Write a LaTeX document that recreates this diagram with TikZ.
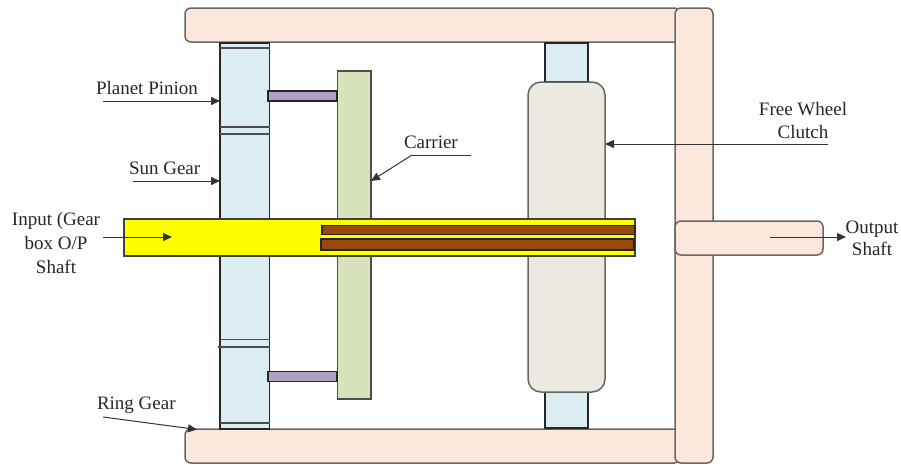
\documentclass[tikz,border=0pt]{standalone}
\usepackage{fontspec}
\setmainfont{Liberation Serif}
\usetikzlibrary{arrows.meta}
\tikzset{
  part/.style={draw=#1,line width=1.1pt,inner sep=0pt,outer sep=0pt,rectangle},
  part/.default=black!85,
  ringbox/.style={part=black!60,line width=1.5pt,fill=ringfill,rounded corners=6pt},
  gearbox/.style={part,fill=gearfill},
  linkbox/.style={part,fill=linkfill},
  brownbox/.style={part,fill=brownfill},
  toothline/.style={draw=black!70,line width=1.1pt},
  pointer/.style={draw=black!80,line width=1pt,-{Triangle[length=9pt,width=8pt]}},
  plainline/.style={draw=black!80,line width=1pt},
  lbl/.style={font=\fontsize{19}{20}\selectfont,inner sep=0pt,outer sep=0pt,text=black!85,align=center},
}
\definecolor{ringfill}{HTML}{FBE8DA}
\definecolor{gearfill}{HTML}{DBECF3}
\definecolor{linkfill}{HTML}{B0A0C4}
\definecolor{carrierfill}{HTML}{D8E3BC}
\definecolor{clutchfill}{HTML}{ECEAE0}
\definecolor{brownfill}{HTML}{984807}
\definecolor{shaftfill}{RGB}{255,255,0}
\begin{document}
\begin{tikzpicture}[x=1pt,y=-1pt]
\useasboundingbox (0,0) rectangle (901,464);
% ring gear
\node[ringbox,minimum width=495pt,minimum height=34pt] (ringtop) at (432.5,25) {};
\node[ringbox,minimum width=495pt,minimum height=34pt] (ringbot) at (432.5,446) {};
\node[ringbox,minimum width=38pt,minimum height=455pt] (ringside) at (694,235.5) {};
% gear column
\node[gearbox,minimum width=49.5pt,minimum height=386pt] (column) at (244.75,236) {};
\coordinate (t1a) at (220,48); \coordinate (t1b) at (269.5,48);
\coordinate (t2a) at (220,127); \coordinate (t2b) at (269.5,127);
\coordinate (t3a) at (220,134); \coordinate (t3b) at (269.5,134);
\coordinate (t4a) at (220,339.5); \coordinate (t4b) at (269.5,339.5);
\coordinate (t5a) at (218,347); \coordinate (t5b) at (269.5,347);
\coordinate (t6a) at (220,423); \coordinate (t6b) at (269.5,423);
\draw[toothline] (t1a) -- (t1b);
\draw[toothline] (t2a) -- (t2b);
\draw[toothline] (t3a) -- (t3b);
\draw[toothline] (t4a) -- (t4b);
\draw[toothline] (t5a) -- (t5b);
\draw[toothline] (t6a) -- (t6b);
% carrier
\node[part=black!70,fill=carrierfill,minimum width=33.5pt,minimum height=328pt] (carrier) at (354.25,235) {};
\node[linkbox,minimum width=69pt,minimum height=10pt] (linktop) at (302.5,96) {};
\node[linkbox,minimum width=69pt,minimum height=10pt] (linkbot) at (302.5,376.5) {};
% clutch
\node[gearbox,minimum width=43pt,minimum height=39pt] (rolltop) at (566.5,62.5) {};
\node[gearbox,minimum width=43pt,minimum height=40pt] (rollbot) at (566.5,408) {};
\node[part=black!60,line width=1.5pt,fill=clutchfill,rounded corners=13pt,minimum width=77pt,minimum height=310pt] (clutch) at (566.5,237) {};
% shafts
\node[part=black!75,fill=shaftfill,minimum width=511pt,minimum height=37pt] (input) at (379.5,237.5) {};
\node[brownbox,minimum width=313pt,minimum height=9pt] (sleevea) at (478.5,230) {};
\node[brownbox,minimum width=313pt,minimum height=11pt] (sleeveb) at (477.5,244.5) {};
\node[ringbox,minimum width=148pt,minimum height=34pt] (output) at (749,238) {};
% labels
\node[lbl,anchor=west] (lplanet) at (96,88) {Planet Pinion};
\node[lbl,anchor=west] (lsun) at (129,168) {Sun Gear};
\node[lbl] (linput) at (56,243) {Input (Gear\\[4pt]box O/P\\[4pt]Shaft};
\node[lbl,anchor=west] (lring) at (97,405) {Ring Gear};
\node[lbl,anchor=west] (lcarrier) at (404,142) {Carrier};
\node[lbl] (lclutch) at (803,120) {Free Wheel\\[3pt]Clutch};
\node[lbl] (loutput) at (872,238) {Output\\[2pt]Shaft};
% connectors
\coordinate (aplanet) at (103,101);
\coordinate (asun) at (133,181);
\coordinate (ainput) at (103,237);
\coordinate (binput) at (172,237);
\coordinate (aring) at (103,417);
\coordinate (bring) at (197,429.5);
\coordinate (acarrier) at (471,155);
\coordinate (bcarrier) at (412,155);
\coordinate (ccarrier) at (371,181);
\coordinate (aclutch) at (828,144);
\coordinate (aoutput) at (770,237);
\coordinate (boutput) at (846,237);
\draw[pointer] (aplanet) -- (aplanet -| column.west);
\draw[pointer] (asun) -- (asun -| column.west);
\draw[pointer] (ainput) -- (binput);
\draw[pointer] (aring) -- (bring);
\draw[plainline] (acarrier) -- (bcarrier);
\draw[pointer] (bcarrier) -- (ccarrier);
\draw[pointer] (aclutch) -- (aclutch -| clutch.east);
\draw[pointer] (aoutput) -- (boutput);
\end{tikzpicture}
\end{document}
